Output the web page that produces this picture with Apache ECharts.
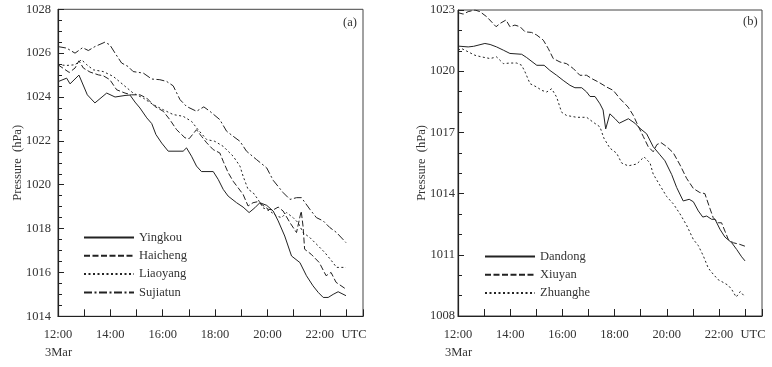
<!DOCTYPE html>
<html>
<head>
<meta charset="utf-8">
<script src="https://cdn.jsdelivr.net/npm/echarts@6/dist/echarts.min.js"></script>
<style>
html, body { margin: 0; padding: 0; background: #fff; }
#chart { width: 772px; height: 367px; }
</style>
</head>
<body>
<div id="chart"></div>
<script>
// time in hours (UTC, 3 Mar), pressure in hPa
var yingkou = [[12.00,1024.7],[12.33,1024.86],[12.46,1024.6],[12.80,1025.0],[13.12,1024.1],[13.41,1023.73],[13.86,1024.18],[14.18,1024.0],[14.56,1024.07],[14.75,1024.09],[14.94,1023.77],[15.13,1023.5],[15.39,1023.05],[15.58,1022.79],[15.74,1022.29],[15.96,1021.9],[16.21,1021.53],[16.78,1021.53],[16.91,1021.68],[17.10,1021.3],[17.29,1020.85],[17.48,1020.6],[17.93,1020.6],[18.12,1020.24],[18.31,1019.79],[18.50,1019.48],[18.82,1019.18],[19.07,1018.98],[19.30,1018.73],[19.52,1018.95],[19.71,1019.18],[19.97,1019.06],[20.22,1018.8],[20.41,1018.35],[20.66,1017.66],[20.92,1016.75],[21.24,1016.45],[21.49,1015.85],[21.74,1015.39],[21.94,1015.09],[22.13,1014.86],[22.32,1014.86],[22.51,1015.0],[22.70,1015.12],[23.00,1014.94]];
var haicheng = [[12.00,1025.47],[12.43,1025.12],[12.65,1025.32],[12.80,1025.65],[12.97,1025.32],[13.22,1025.14],[13.54,1025.01],[13.73,1024.97],[13.98,1024.79],[14.24,1024.33],[14.56,1024.18],[14.81,1024.1],[15.13,1024.1],[15.39,1023.95],[15.70,1023.57],[16.02,1023.35],[16.27,1022.97],[16.53,1022.51],[16.85,1022.14],[17.01,1022.1],[17.29,1022.51],[17.48,1022.21],[17.68,1021.91],[17.93,1021.6],[18.18,1021.45],[18.31,1021.07],[18.50,1020.55],[18.69,1020.16],[18.88,1019.86],[19.07,1019.56],[19.26,1019.03],[19.45,1019.18],[19.64,1019.23],[19.83,1019.06],[20.03,1018.88],[20.22,1018.85],[20.41,1018.98],[20.60,1018.8],[20.86,1018.27],[21.11,1017.82],[21.29,1018.8],[21.36,1018.1],[21.42,1017.06],[21.67,1016.83],[21.98,1016.45],[22.24,1015.85],[22.43,1016.0],[22.62,1015.55],[23.00,1015.24]];
var liaoyang = [[12.00,1025.47],[12.33,1025.44],[12.65,1025.47],[12.90,1025.7],[13.10,1025.47],[13.35,1025.24],[13.73,1025.16],[14.11,1024.94],[14.49,1024.56],[14.87,1024.18],[15.26,1023.95],[15.64,1023.65],[16.02,1023.42],[16.40,1023.2],[16.78,1023.12],[17.10,1022.89],[17.35,1022.51],[17.68,1022.06],[17.99,1021.98],[18.31,1021.75],[18.69,1021.3],[18.95,1020.85],[19.07,1020.39],[19.26,1019.79],[19.45,1019.64],[19.64,1019.33],[19.83,1018.95],[20.09,1018.8],[20.35,1018.57],[20.54,1018.5],[20.73,1018.73],[20.98,1018.5],[21.17,1018.27],[21.36,1017.82],[21.62,1017.59],[21.94,1017.21],[22.19,1016.91],[22.45,1016.53],[22.64,1016.23],[23.00,1016.23]];
var sujiatun = [[12.00,1026.3],[12.33,1026.23],[12.65,1026.0],[12.94,1026.25],[13.16,1026.12],[13.41,1026.3],[13.79,1026.5],[13.98,1026.38],[14.18,1026.0],[14.43,1025.55],[14.68,1025.39],[14.87,1025.16],[15.26,1025.09],[15.58,1024.82],[15.89,1024.79],[16.15,1024.71],[16.40,1024.51],[16.66,1023.88],[16.91,1023.57],[17.29,1023.35],[17.57,1023.55],[17.80,1023.35],[18.18,1022.97],[18.44,1022.44],[18.69,1022.21],[18.95,1021.98],[19.20,1021.53],[19.58,1021.15],[19.97,1020.77],[20.22,1020.2],[20.60,1019.64],[20.86,1019.33],[21.11,1019.41],[21.30,1019.41],[21.62,1018.88],[21.87,1018.5],[22.13,1018.35],[22.38,1018.05],[22.64,1017.82],[23.00,1017.36]];

var dandong = [[12.00,1021.23],[12.39,1021.19],[12.60,1021.22],[13.03,1021.36],[13.23,1021.31],[13.48,1021.19],[13.74,1021.03],[13.99,1020.87],[14.44,1020.83],[14.63,1020.67],[15.02,1020.29],[15.30,1020.29],[15.52,1020.04],[15.78,1019.8],[16.03,1019.55],[16.29,1019.31],[16.48,1019.19],[16.74,1019.19],[16.93,1018.98],[17.06,1018.76],[17.25,1018.76],[17.44,1018.4],[17.56,1018.1],[17.66,1017.17],[17.82,1017.91],[18.02,1017.67],[18.18,1017.45],[18.53,1017.67],[18.78,1017.45],[18.97,1017.2],[19.23,1016.93],[19.48,1016.3],[19.74,1015.9],[19.93,1015.61],[20.19,1014.93],[20.38,1014.3],[20.63,1013.64],[20.86,1013.72],[21.02,1013.6],[21.21,1013.15],[21.38,1012.85],[21.53,1012.9],[21.72,1012.74],[21.85,1012.74],[22.04,1012.25],[22.23,1011.87],[22.49,1011.59],[22.68,1011.26],[22.87,1010.9],[23.00,1010.7]];
var xiuyan = [[12.00,1022.87],[12.20,1022.8],[12.39,1022.92],[12.65,1023.0],[12.84,1022.92],[13.10,1022.67],[13.46,1022.18],[13.61,1022.34],[13.84,1022.51],[13.99,1022.18],[14.18,1022.26],[14.38,1022.18],[14.57,1021.93],[14.82,1021.9],[15.02,1021.77],[15.27,1021.52],[15.46,1021.11],[15.65,1020.62],[15.91,1020.45],[16.16,1020.37],[16.42,1020.13],[16.67,1019.8],[16.93,1019.8],[17.12,1019.64],[17.38,1019.47],[17.70,1019.22],[17.95,1019.06],[18.21,1018.65],[18.40,1018.4],[18.52,1018.24],[18.72,1017.83],[18.91,1017.3],[19.10,1016.8],[19.29,1016.3],[19.48,1016.05],[19.62,1016.4],[19.78,1016.5],[20.00,1016.3],[20.25,1016.0],[20.51,1015.4],[20.76,1014.75],[21.02,1014.25],[21.27,1014.05],[21.46,1014.0],[21.66,1013.25],[21.78,1012.82],[21.97,1012.57],[22.10,1012.57],[22.23,1012.16],[22.36,1011.75],[22.55,1011.59],[22.80,1011.51],[23.00,1011.42]];
var zhuanghe = [[12.00,1021.03],[12.14,1021.11],[12.65,1020.78],[12.91,1020.7],[13.23,1020.62],[13.48,1020.7],[13.74,1020.37],[13.99,1020.4],[14.25,1020.4],[14.44,1020.29],[14.57,1019.96],[14.76,1019.39],[15.02,1019.22],[15.21,1019.06],[15.40,1018.98],[15.59,1019.14],[15.78,1018.73],[15.97,1017.99],[16.16,1017.83],[16.55,1017.74],[16.93,1017.74],[17.18,1017.5],[17.44,1017.27],[17.59,1016.72],[17.82,1016.23],[18.08,1015.98],[18.27,1015.5],[18.52,1015.36],[18.85,1015.45],[19.13,1015.8],[19.36,1015.5],[19.48,1014.96],[19.74,1014.4],[20.00,1013.85],[20.25,1013.5],[20.51,1013.0],[20.76,1012.45],[21.02,1011.75],[21.21,1011.45],[21.40,1010.95],[21.59,1010.35],[21.78,1010.05],[21.97,1009.78],[22.16,1009.65],[22.36,1009.5],[22.49,1009.3],[22.66,1008.93],[22.82,1009.2],[23.00,1008.93]];

var hourLabels = {12:'12:00', 14:'14:00', 16:'16:00', 18:'18:00', 20:'20:00', 22:'22:00', 23:'UTC'};

var FONT = 'Liberation Serif';
var INK = '#222';
var TXT = '#333';

var solid = 'solid';
var dashed = [6, 2.5];
var dotted = [2, 2.5];
var dashDot = [8, 2.5, 2, 2.5];

function xAxisFor(gi){
    return {
        type: 'value', gridIndex: gi, min: 12, max: 23.65, interval: 1,
        axisLine: {lineStyle: {color: INK, width: 1.2}},
        axisTick: {inside: true, length: 7, lineStyle: {color: INK}},
        splitLine: {show: false},
        axisLabel: {
            margin: 12, color: TXT, fontFamily: FONT, fontSize: 12.5,
            formatter: function(v){
                var s = hourLabels[v];
                if (!s) return '';
                return v === 23 ? '{u|UTC}' : s;
            },
            rich: {u: {padding: [0, 0, 0, 16], fontFamily: FONT, fontSize: 12.5, color: TXT}}
        }
    };
}
function yAxisFor(gi, mn, mx, step, minorSplit, gap, lblMargin){
    return {
        type: 'value', gridIndex: gi, min: mn, max: mx, interval: step,
        name: 'Pressure  (hPa)', nameLocation: 'middle', nameGap: gap,
        nameMoveOverlap: false,
        nameTextStyle: {color: TXT, fontFamily: FONT, fontSize: 12.5},
        axisLine: {show: true, lineStyle: {color: INK, width: 1.2}},
        axisTick: {inside: true, length: 6, lineStyle: {color: INK}},
        minorTick: {show: true, splitNumber: minorSplit, length: 4, lineStyle: {color: INK}},
        splitLine: {show: false},
        axisLabel: {
            margin: lblMargin, color: TXT, fontFamily: FONT, fontSize: 12.5,
            formatter: function(v){ return String(v); }
        }
    };
}
function line(name, data, type, idx){
    return {
        name: name, type: 'line', data: data, xAxisIndex: idx, yAxisIndex: idx,
        symbol: 'none', showSymbol: false, smooth: false,
        lineStyle: {color: INK, width: 1, type: type},
        itemStyle: {color: INK}
    };
}

var legendBase = {
    orient: 'vertical', itemWidth: 50, itemHeight: 10, itemGap: 5.3,
    itemStyle: {opacity: 0, borderWidth: 0},
    textStyle: {color: TXT, fontFamily: FONT, fontSize: 12.5}
};

var chart = echarts.init(document.getElementById('chart'));
chart.setOption({
    animation: false,
    backgroundColor: '#fff',
    grid: [
        {left: 58, top: 9.3, width: 305, height: 307, show: true, borderColor: '#444', borderWidth: 1},
        {left: 458, top: 10, width: 304, height: 306, show: true, borderColor: '#444', borderWidth: 1}
    ],
    xAxis: [xAxisFor(0), xAxisFor(1)],
    yAxis: [yAxisFor(0, 1014, 1028, 2, 4, 34, 7), yAxisFor(1, 1008, 1023, 3, 3, 30, 3)],
    legend: [
        Object.assign({data: ['Yingkou', 'Haicheng', 'Liaoyang', 'Sujiatun'], left: 78, top: 226}, legendBase),
        Object.assign({data: ['Dandong', 'Xiuyan', 'Zhuanghe'], left: 479, top: 245}, legendBase)
    ],
    graphic: [
        {type: 'text', left: 343, top: 16, style: {text: '(a)', fill: TXT, font: '12.5px "Liberation Serif"'}},
        {type: 'text', left: 743, top: 15, style: {text: '(b)', fill: TXT, font: '12.5px "Liberation Serif"'}},
        {type: 'text', left: 45, top: 346, style: {text: '3Mar', fill: TXT, font: '12.5px "Liberation Serif"'}},
        {type: 'text', left: 445, top: 346, style: {text: '3Mar', fill: TXT, font: '12.5px "Liberation Serif"'}}
    ],
    series: [
        line('Yingkou', yingkou, solid, 0),
        line('Haicheng', haicheng, dashed, 0),
        line('Liaoyang', liaoyang, dotted, 0),
        line('Sujiatun', sujiatun, dashDot, 0),
        line('Dandong', dandong, solid, 1),
        line('Xiuyan', xiuyan, dashed, 1),
        line('Zhuanghe', zhuanghe, dotted, 1)
    ]
});
</script>
</body>
</html>
